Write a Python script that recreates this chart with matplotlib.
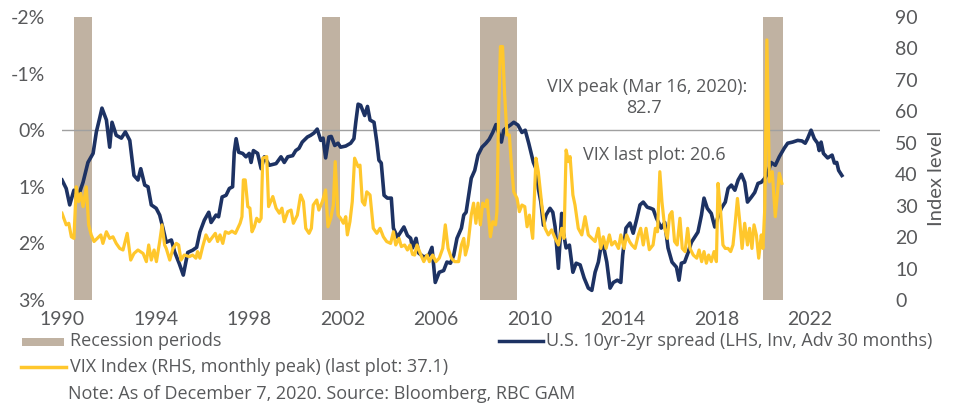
import matplotlib
matplotlib.use("Agg")
import matplotlib.pyplot as plt
from matplotlib.patches import Rectangle
from matplotlib.lines import Line2D

plt.rcParams['font.family'] = ['Lato', 'DejaVu Sans']
TXT_FONT = ['Open Sans', 'DejaVu Sans']

# ---------------- data ----------------
spread_dates = [1990.0, 1990.18, 1990.33, 1990.51, 1990.71, 1990.9, 1991.11, 1991.33, 1991.47, 1991.61,
                1991.71, 1991.9, 1992.04, 1992.14, 1992.32, 1992.54, 1992.71, 1992.9, 1993.08, 1993.25,
                1993.37, 1993.54, 1993.68, 1993.82, 1994.03, 1994.18, 1994.32, 1994.46, 1994.68, 1994.82,
                1995.02, 1995.19, 1995.38, 1995.59, 1995.76, 1995.9, 1996.09, 1996.28, 1996.38, 1996.59,
                1996.7, 1996.85, 1997.02, 1997.16, 1997.3, 1997.37, 1997.45, 1997.56, 1997.73, 1997.87,
                1998.01, 1998.09, 1998.19, 1998.37, 1998.52, 1998.66, 1998.87, 1999.16, 1999.37, 1999.51,
                1999.66, 1999.87, 2000.0, 2000.14, 2000.28, 2000.5, 2000.64, 2000.78, 2000.92, 2001.07,
                2001.17, 2001.28, 2001.42, 2001.52, 2001.67, 2001.81, 2001.92, 2002.14, 2002.35, 2002.49,
                2002.57, 2002.67, 2002.78, 2002.95, 2003.07, 2003.18, 2003.35, 2003.47, 2003.56, 2003.66,
                2003.78, 2003.92, 2004.09, 2004.18, 2004.35, 2004.49, 2004.63, 2004.78, 2004.92, 2005.0,
                2005.15, 2005.26, 2005.48, 2005.69, 2005.83, 2005.97, 2006.14, 2006.33, 2006.47, 2006.62,
                2006.76, 2006.9, 2007.09, 2007.19, 2007.29, 2007.4, 2007.51, 2007.66, 2007.8, 2007.97,
                2008.14, 2008.28, 2008.43, 2008.57, 2008.68, 2008.8, 2008.9, 2009.04, 2009.18, 2009.33,
                2009.51, 2009.68, 2009.82, 2009.97, 2010.17, 2010.28, 2010.38, 2010.49, 2010.6, 2010.71,
                2010.88, 2011.0, 2011.1, 2011.24, 2011.38, 2011.45, 2011.57, 2011.71, 2011.86, 2012.0,
                2012.17, 2012.34, 2012.52, 2012.67, 2012.81, 2012.95, 2013.05, 2013.16, 2013.31, 2013.45,
                2013.59, 2013.76, 2013.91, 2013.99, 2014.13, 2014.3, 2014.44, 2014.59, 2014.73, 2014.87,
                2015.04, 2015.19, 2015.3, 2015.43, 2015.64, 2015.79, 2015.93, 2016.1, 2016.29, 2016.4,
                2016.5, 2016.64, 2016.79, 2016.93, 2017.07, 2017.21, 2017.36, 2017.47, 2017.61, 2017.78,
                2017.93, 2018.07, 2018.21, 2018.38, 2018.5, 2018.64, 2018.79, 2018.93, 2019.07, 2019.21,
                2019.33, 2019.5, 2019.64, 2019.78, 2019.92, 2020.07, 2020.21, 2020.34, 2020.52, 2020.69,
                2020.9, 2021.05, 2021.26, 2021.48, 2021.66, 2021.8, 2021.9, 2022.05, 2022.19, 2022.33,
                2022.4, 2022.48, 2022.58, 2022.76, 2022.95, 2023.05, 2023.15, 2023.23, 2023.37]
spread_values = [0.88, 1.03, 1.32, 1.06, 1.15, 0.92, 0.57, 0.41, 0.03, -0.21,
                 -0.39, -0.18, 0.30, -0.14, 0.09, 0.14, 0.03, 0.18, 0.80, 0.88,
                 0.68, 0.97, 1.00, 1.32, 1.38, 1.50, 1.73, 1.98, 1.94, 2.15,
                 2.36, 2.56, 2.16, 2.12, 2.07, 1.80, 1.59, 1.45, 1.63, 1.50,
                 1.53, 1.18, 1.15, 1.03, 1.00, 0.39, 0.15, 0.39, 0.41, 0.47,
                 0.41, 0.57, 0.36, 0.41, 0.68, 0.47, 0.62, 0.59, 0.47, 0.57,
                 0.47, 0.45, 0.36, 0.32, 0.21, 0.12, 0.09, 0.05, -0.02, 0.18,
                 0.14, 0.49, 0.12, 0.11, 0.27, 0.23, 0.30, 0.28, 0.23, 0.15,
                 -0.14, -0.46, -0.44, -0.26, -0.42, -0.18, -0.14, 0.21, 0.53, 0.58,
                 1.15, 1.20, 1.20, 1.73, 1.89, 1.80, 1.71, 1.86, 1.91, 2.08,
                 1.91, 2.17, 2.24, 2.21, 2.07, 2.69, 2.51, 2.48, 2.33, 2.35,
                 2.21, 1.91, 1.73, 1.50, 1.45, 1.15, 0.85, 0.71, 0.44, 0.30,
                 0.23, 0.16, 0.04, -0.10, 0.04, 0.21, 0.00, -0.05, -0.09, -0.14,
                 -0.09, 0.04, 0.00, 0.23, 0.57, 0.68, 1.03, 1.27, 1.68, 1.50,
                 1.38, 1.45, 1.71, 2.44, 1.47, 1.80, 2.08, 2.03, 2.51, 2.35,
                 2.38, 2.61, 2.79, 2.83, 2.51, 2.33, 2.08, 2.03, 2.33, 2.79,
                 2.69, 2.65, 2.69, 2.21, 1.73, 1.64, 1.82, 1.57, 1.32, 1.27,
                 1.36, 1.38, 1.40, 1.55, 1.73, 1.63, 2.08, 2.33, 2.42, 2.65,
                 2.35, 2.33, 2.16, 1.98, 1.89, 1.80, 1.50, 1.20, 1.38, 1.47,
                 1.71, 1.53, 1.38, 1.27, 1.03, 0.97, 1.06, 0.88, 0.78, 0.92,
                 1.27, 1.18, 1.10, 0.94, 0.92, 0.85, 0.74, 0.57, 0.62, 0.47,
                 0.32, 0.23, 0.21, 0.18, 0.19, 0.23, 0.15, 0.00, 0.15, 0.23,
                 0.36, 0.21, 0.41, 0.49, 0.44, 0.58, 0.57, 0.71, 0.80]

vix_dates = [1990.0, 1990.18, 1990.29, 1990.4, 1990.51, 1990.61, 1990.71, 1990.8, 1990.9, 1991.04,
             1991.14, 1991.25, 1991.37, 1991.51, 1991.66, 1991.75, 1991.9, 1992.04, 1992.18, 1992.32,
             1992.47, 1992.61, 1992.79, 1992.94, 1993.08, 1993.25, 1993.47, 1993.61, 1993.71, 1993.82,
             1993.94, 1994.04, 1994.18, 1994.28, 1994.39, 1994.46, 1994.61, 1994.75, 1994.89, 1994.99,
             1995.09, 1995.23, 1995.45, 1995.59, 1995.73, 1995.8, 1995.9, 1996.02, 1996.16, 1996.3,
             1996.45, 1996.56, 1996.66, 1996.76, 1996.88, 1996.99, 1997.13, 1997.27, 1997.42, 1997.52,
             1997.62, 1997.7, 1997.76, 1997.84, 1997.95, 1998.04, 1998.13, 1998.23, 1998.33, 1998.44,
             1998.52, 1998.59, 1998.76, 1998.84, 1999.02, 1999.16, 1999.3, 1999.41, 1999.51, 1999.66,
             1999.8, 1999.9, 2000.07, 2000.21, 2000.33, 2000.43, 2000.57, 2000.67, 2000.75, 2000.9,
             2000.99, 2001.14, 2001.28, 2001.38, 2001.5, 2001.61, 2001.69, 2001.81, 2001.92, 2002.04,
             2002.14, 2002.21, 2002.32, 2002.42, 2002.52, 2002.67, 2002.75, 2002.85, 2002.95, 2003.04,
             2003.18, 2003.32, 2003.47, 2003.61, 2003.75, 2003.89, 2004.06, 2004.18, 2004.28, 2004.42,
             2004.52, 2004.66, 2004.78, 2004.89, 2005.0, 2005.09, 2005.19, 2005.33, 2005.48, 2005.62,
             2005.72, 2005.86, 2006.0, 2006.14, 2006.29, 2006.4, 2006.52, 2006.66, 2006.8, 2006.97,
             2007.09, 2007.19, 2007.26, 2007.37, 2007.51, 2007.61, 2007.71, 2007.8, 2007.9, 2008.0,
             2008.11, 2008.19, 2008.33, 2008.43, 2008.55, 2008.61, 2008.68, 2008.76, 2008.85, 2008.94,
             2009.04, 2009.14, 2009.23, 2009.33, 2009.47, 2009.57, 2009.68, 2009.8, 2009.9, 2010.0,
             2010.14, 2010.28, 2010.38, 2010.53, 2010.67, 2010.81, 2010.95, 2011.1, 2011.24, 2011.38,
             2011.48, 2011.57, 2011.67, 2011.74, 2011.86, 2011.95, 2012.09, 2012.24, 2012.38, 2012.52,
             2012.67, 2012.81, 2012.95, 2013.05, 2013.16, 2013.28, 2013.42, 2013.52, 2013.66, 2013.81,
             2013.91, 2014.05, 2014.16, 2014.28, 2014.38, 2014.52, 2014.66, 2014.76, 2014.87, 2014.99,
             2015.13, 2015.29, 2015.39, 2015.48, 2015.58, 2015.67, 2015.79, 2015.9, 2016.0, 2016.1,
             2016.21, 2016.32, 2016.44, 2016.54, 2016.66, 2016.77, 2016.87, 2017.01, 2017.16, 2017.26,
             2017.37, 2017.47, 2017.57, 2017.67, 2017.78, 2017.9, 2018.0, 2018.07, 2018.18, 2018.28,
             2018.38, 2018.5, 2018.61, 2018.71, 2018.81, 2018.9, 2019.0, 2019.1, 2019.21, 2019.33,
             2019.42, 2019.52, 2019.61, 2019.71, 2019.81, 2019.92, 2019.99, 2020.07, 2020.16, 2020.27,
             2020.39, 2020.52, 2020.69, 2020.8]
vix_values = [27.6, 23.9, 24.4, 20.1, 19.6, 36.0, 31.3, 33.9, 29.7, 36.0,
              23.9, 20.7, 18.6, 19.6, 20.7, 18.0, 21.7, 19.6, 20.1, 18.0,
              16.4, 15.9, 21.2, 12.7, 14.8, 15.9, 14.8, 12.2, 17.5, 12.7,
              15.9, 12.2, 18.6, 23.9, 17.5, 16.4, 12.7, 16.4, 18.0, 17.5,
              12.7, 14.3, 13.8, 14.3, 13.3, 15.4, 13.3, 17.0, 20.7, 18.6,
              20.1, 21.2, 18.6, 20.7, 18.0, 21.7, 21.2, 21.9, 21.2, 22.8,
              24.4, 26.5, 38.2, 38.2, 29.7, 29.2, 21.7, 23.3, 26.0, 24.9,
              26.0, 45.1, 45.6, 29.7, 32.9, 29.2, 27.6, 29.2, 24.9, 28.1,
              28.6, 24.4, 27.0, 33.4, 31.3, 22.8, 21.2, 22.8, 30.2, 31.8,
              28.6, 31.3, 35.0, 23.3, 26.0, 30.2, 44.0, 27.0, 26.0, 24.4,
              26.5, 20.7, 24.9, 31.3, 45.1, 42.4, 42.9, 31.3, 30.2, 34.4,
              33.4, 22.8, 21.2, 22.8, 20.1, 18.6, 18.0, 21.7, 17.5, 19.6,
              17.0, 17.5, 15.9, 17.5, 14.5, 14.3, 17.5, 14.8, 12.2, 14.3,
              12.2, 14.3, 12.2, 13.3, 16.4, 23.9, 16.4, 13.3, 12.2, 12.2,
              17.5, 19.6, 14.3, 17.5, 27.0, 30.8, 24.4, 30.8, 23.9, 30.8,
              29.7, 31.8, 20.1, 24.9, 23.9, 28.1, 58.8, 80.6, 80.6, 65.2,
              52.5, 52.5, 42.9, 34.4, 32.3, 28.1, 30.2, 29.7, 23.3, 27.0,
              19.6, 45.1, 40.8, 30.2, 22.8, 20.7, 22.3, 19.6, 17.5, 22.8,
              19.6, 47.7, 44.0, 45.6, 33.4, 30.2, 22.8, 20.7, 26.5, 20.7,
              19.6, 18.6, 22.8, 16.4, 20.1, 16.4, 20.7, 17.5, 18.6, 16.4,
              20.7, 16.4, 20.7, 18.6, 17.5, 16.4, 20.7, 22.8, 17.5, 22.8,
              16.0, 17.5, 22.8, 21.7, 40.8, 31.3, 22.8, 19.6, 27.0, 28.1,
              18.6, 17.5, 26.0, 16.4, 15.4, 22.8, 16.4, 14.3, 13.3, 15.9,
              12.2, 15.4, 11.7, 14.3, 12.2, 15.4, 12.2, 37.1, 28.1, 17.5,
              16.4, 16.4, 15.4, 17.5, 24.9, 32.3, 24.9, 16.4, 24.4, 17.5,
              22.8, 16.4, 23.9, 20.7, 13.3, 20.7, 16.4, 29.2, 82.7, 37.6,
              40.8, 26.5, 40.3, 37.1]

recession_starts = [1990.51, 2001.13, 2007.89, 2019.99]
recession_ends = [1991.28, 2001.90, 2009.47, 2020.84]

x_ticks = [1990, 1994, 1998, 2002, 2006, 2010, 2014, 2018, 2022]
left_ticks = [-2, -1, 0, 1, 2, 3]
left_labels = ['-2%', '-1%', '0%', '1%', '2%', '3%']
right_ticks = [0, 10, 20, 30, 40, 50, 60, 70, 80, 90]

# ---------------- style ----------------
NAVY = '#1D3263'
YELLOW = '#FFC72C'
TAN = '#C0B2A2'
GRAY = '#58595B'
TS = 13.0

W, H = 956, 405
fig = plt.figure(figsize=(W / 100, H / 100), dpi=100)

def fx(px):
    return px / W

def fy(py):
    return 1 - py / H

ax = fig.add_axes([fx(62), fy(300), (880 - 62) / W, (300 - 17) / H])
ax2 = ax.twinx()

for s, e in zip(recession_starts, recession_ends):
    ax.axvspan(s, e, color=TAN, lw=0, zorder=0)
ax.axhline(0, color='#A0A0A0', lw=1.0, zorder=1)
ax.plot(spread_dates, spread_values, color=NAVY, lw=2.6, zorder=3, solid_joinstyle='round')
ax2.plot(vix_dates, vix_values, color=YELLOW, lw=2.3, zorder=3, solid_joinstyle='round')

ax.set_xlim(1990, 2025)
ax.set_ylim(3, -2)
ax2.set_ylim(0, 90)

ax.set_xticks(x_ticks)
ax.set_xticklabels([str(t) for t in x_ticks])
ax.set_yticks(left_ticks)
ax.set_yticklabels(left_labels)
ax2.set_yticks(right_ticks)

for a in (ax, ax2):
    for sp in a.spines.values():
        sp.set_visible(False)
ax.tick_params(axis='x', length=0, pad=8, labelsize=14, labelcolor=GRAY)
ax.tick_params(axis='y', length=0, pad=12, labelsize=14, labelcolor=GRAY)
ax2.tick_params(axis='y', length=0, pad=11, labelsize=14, labelcolor=GRAY)

fig.text(fx(937), fy(178), 'Index level', rotation=90, ha='center', va='center',
         fontsize=14.5, color=GRAY)

# annotations (data coordinates of the right axis)
ax2.text(2015.03, 67.7, 'VIX peak (Mar 16, 2020):', ha='center', va='center',
         fontsize=TS, color=GRAY, family=TXT_FONT)
ax2.text(2014.88, 61.1, '82.7', ha='center', va='center', fontsize=TS, color=GRAY,
         family=TXT_FONT)
ax2.text(2012.28, 46.1, 'VIX last plot: 20.6', ha='left', va='center',
         fontsize=TS, color=GRAY, family=TXT_FONT)

# legend (manual)
fig.add_artist(Rectangle((fx(21.7), fy(345.7)), (64 - 21.7) / W, 8 / H,
                         transform=fig.transFigure, color=TAN, lw=0))
fig.text(fx(70), fy(345.7), 'Recession periods', ha='left', va='baseline',
         fontsize=TS, color=GRAY, family=TXT_FONT)
fig.add_artist(Line2D([fx(499), fx(543)], [fy(341), fy(341)], transform=fig.transFigure,
                      color=NAVY, lw=2.5))
fig.text(fx(546), fy(345.7), 'U.S. 10yr-2yr spread (LHS, Inv, Adv 30 months)', ha='left',
         va='baseline', fontsize=TS, color=GRAY, family=TXT_FONT)
fig.add_artist(Line2D([fx(21), fx(65.7)], [fy(366.7), fy(366.7)], transform=fig.transFigure,
                      color=YELLOW, lw=2.5))
fig.text(fx(70), fy(371.5), 'VIX Index (RHS, monthly peak) (last plot: 37.1)', ha='left',
         va='baseline', fontsize=TS, color=GRAY, family=TXT_FONT)
fig.text(fx(68), fy(399), 'Note: As of December 7, 2020. Source: Bloomberg, RBC GAM', ha='left',
         va='baseline', fontsize=TS, color=GRAY, family=TXT_FONT)

fig.savefig('out.png', dpi=100)
